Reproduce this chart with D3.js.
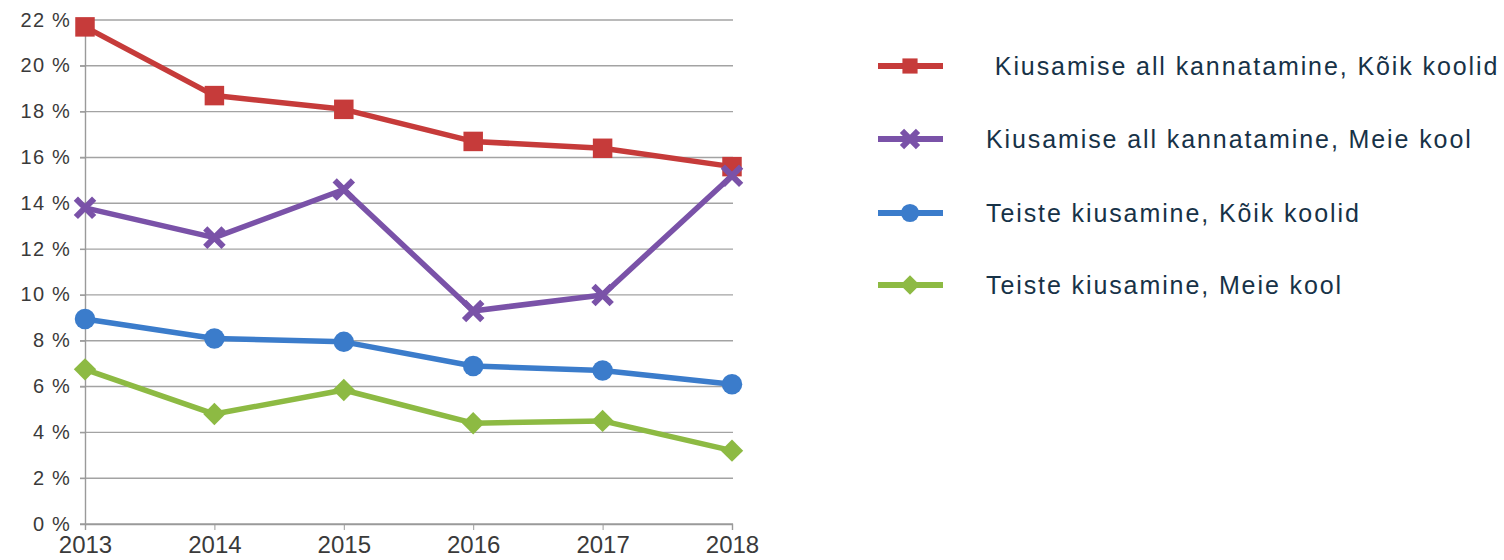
<!DOCTYPE html>
<html>
<head>
<meta charset="utf-8">
<script src="https://cdn.jsdelivr.net/npm/d3@7"></script>
<style>
  body { margin: 0; background: #fff; }
  svg { font-family: "Liberation Sans", Arial, sans-serif; }
  .tick text { fill: #3a3a3a; }
  .legend text { fill: #173247; font-size: 25px; letter-spacing: 1.9px; }
</style>
</head>
<body>
<div id="chart"></div>
<script>
const years = [2013, 2014, 2015, 2016, 2017, 2018];
const yTicks = [0, 2, 4, 6, 8, 10, 12, 14, 16, 18, 20, 22];

const seriesNames = [
  " Kiusamise all kannatamine, Kõik koolid",
  "Kiusamise all kannatamine, Meie kool",
  "Teiste kiusamine, Kõik koolid",
  "Teiste kiusamine, Meie kool"
];
const kiusatudKoik = [21.7, 18.7, 18.1, 16.7, 16.4, 15.6];
const kiusatudMeie = [13.8, 12.5, 14.6, 9.3, 10.0, 15.2];
const kiusanudKoik = [8.95, 8.1, 7.95, 6.9, 6.7, 6.1];
const kiusanudMeie = [6.75, 4.8, 5.85, 4.4, 4.5, 3.2];

const colors = ["#c63b3a", "#7a52a8", "#3b7ccb", "#8dba43"];
const shapes = ["square", "cross", "circle", "diamond"];
const values = [kiusatudKoik, kiusatudMeie, kiusanudKoik, kiusanudMeie];

const W = 1504, H = 560;
const margin = {left: 85, top: 20, plotRight: 732, bottom: 524};

const svg = d3.select('#chart').append('svg')
  .attr('width', W).attr('height', H);

const x = d3.scaleLinear().domain([2013, 2018]).range([margin.left, margin.plotRight]);
const y = d3.scaleLinear().domain([0, 22]).range([margin.bottom, margin.top]);

// horisontaalsed abijooned
svg.append('g').selectAll('line').data(yTicks).join('line')
  .attr('x1', 80).attr('x2', 733)
  .attr('y1', d => y(d)).attr('y2', d => y(d))
  .attr('stroke', '#a3a3a3').attr('stroke-width', 1.4);

// y telg
const yAxis = svg.append('g').attr('transform', `translate(${margin.left},0)`)
  .call(d3.axisLeft(y).tickValues(yTicks).tickSize(5).tickPadding(9).tickFormat(d => d + ' %'));
yAxis.select('.domain').attr('stroke', '#9a9a9a').attr('stroke-width', 1.4);
yAxis.selectAll('.tick line').attr('stroke', '#9a9a9a');
yAxis.selectAll('.tick text').attr('dy', '0.3em')
  .style('font-size', '20px').style('letter-spacing', '1.2px');

// x telg
const xAxis = svg.append('g').attr('transform', `translate(0,${margin.bottom})`)
  .call(d3.axisBottom(x).tickValues(years).tickSize(6).tickPadding(6).tickFormat(d3.format('d')));
xAxis.select('.domain').attr('stroke', '#9a9a9a').attr('stroke-width', 1.4);
xAxis.selectAll('.tick line').attr('stroke', '#9a9a9a');
xAxis.selectAll('.tick text').style('font-size', '24px');

const symbolFor = {
  square: d3.symbol().type(d3.symbolSquare).size(380),
  cross: d3.symbol().type(d3.symbolX).size(220),
  circle: d3.symbol().type(d3.symbolCircle).size(330),
  diamond: d3.symbol().type(d3.symbolSquare).size(250)
};
const legendSymbol = {
  square: d3.symbol().type(d3.symbolSquare).size(230),
  cross: d3.symbol().type(d3.symbolX).size(170),
  circle: d3.symbol().type(d3.symbolCircle).size(260),
  diamond: d3.symbol().type(d3.symbolSquare).size(190)
};

function drawMarker(g, shape, color, sym) {
  const p = g.append('path').attr('d', sym[shape]()).attr('fill', color);
  if (shape === 'cross') p.attr('stroke', color).attr('stroke-width', 6).attr('stroke-linejoin', 'round');
  if (shape === 'diamond') p.attr('transform', 'rotate(45)');
  return p;
}

const line = d3.line().x((d, i) => x(years[i])).y(d => y(d));

values.forEach((vals, s) => {
  svg.append('path').datum(vals)
    .attr('d', line)
    .attr('fill', 'none')
    .attr('stroke', colors[s])
    .attr('stroke-width', 5.5)
    .attr('stroke-linejoin', 'round');
  vals.forEach((v, i) => {
    const g = svg.append('g').attr('transform', `translate(${x(years[i])},${y(v)})`);
    drawMarker(g, shapes[s], colors[s], symbolFor);
  });
});

// legend
const legendY = [66, 139, 213, 285];
const legend = svg.append('g').attr('class', 'legend');
seriesNames.forEach((name, s) => {
  const g = legend.append('g').attr('transform', `translate(0,${legendY[s]})`);
  g.append('line').attr('x1', 878).attr('x2', 943).attr('y1', 0).attr('y2', 0)
    .attr('stroke', colors[s]).attr('stroke-width', 6);
  const m = g.append('g').attr('transform', 'translate(910,0)');
  drawMarker(m, shapes[s], colors[s], legendSymbol);
  g.append('text').attr('x', 986).attr('y', 0).attr('dy', '0.36em')
    .attr('xml:space', 'preserve').style('white-space', 'pre').text(name);
});
</script>
</body>
</html>
